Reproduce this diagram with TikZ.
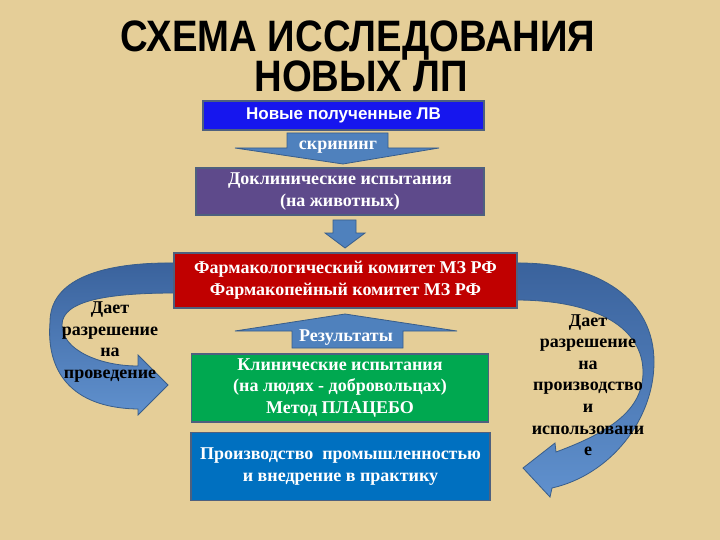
\documentclass[tikz,border=0pt]{standalone}
\usepackage{graphicx}
\usepackage{fontspec}
\setmainfont{Liberation Serif}
\setsansfont{Liberation Sans}
\definecolor{bg}{RGB}{229,206,152}
\definecolor{boxborder}{RGB}{78,96,126}
\definecolor{arrowfill}{RGB}{79,129,189}
\definecolor{arrowborder}{RGB}{56,93,138}
\definecolor{adark}{RGB}{58,98,156}
\definecolor{alight}{RGB}{96,145,206}
\definecolor{cblue}{RGB}{22,22,238}
\definecolor{cpurple}{RGB}{94,74,139}
\definecolor{cred}{RGB}{192,0,0}
\definecolor{cgreen}{RGB}{0,168,80}
\definecolor{cblue2}{RGB}{0,112,192}
\tikzset{
  box/.style={draw=boxborder, line width=1.5pt, text=white, align=center, inner sep=0pt,
    font=\bfseries\fontsize{18}{21.6}\selectfont},
  blockarrow/.style={fill=arrowfill, draw=arrowborder, line width=0.8pt},
  curvearrow/.style={draw=arrowborder, line width=0.8pt, top color=adark, bottom color=alight},
  lbl/.style={text=white, inner sep=0pt, font=\bfseries\fontsize{18}{21.6}\selectfont},
  sidetext/.style={align=center, inner sep=0pt, text=black, font=\bfseries\fontsize{18}{21.6}\selectfont},
  titletext/.style={inner sep=0pt, anchor=base, font=\sffamily\bfseries\fontsize{44}{48}\selectfont}
}
\begin{document}
\begin{tikzpicture}[x=1pt,y=-1pt]
\fill[bg] (0,0) rectangle (720,540);
\useasboundingbox (0,0) rectangle (720,540);

% title
\node[titletext] (t1) at (358,52) {\scalebox{0.87}[1]{СХЕМА ИССЛЕДОВАНИЯ}};
\node[titletext] (t2) at (361,92) {\scalebox{0.87}[1]{НОВЫХ ЛП}};

% curved arrows (behind boxes)
\path[curvearrow] (176,263) .. controls (100,262) and (50,280) .. (50,322)
   .. controls (46,370) and (70,408) .. (138,409) -- (138,415) -- (168,385) -- (138,355) -- (138,366)
   .. controls (100,366) and (62,350) .. (62,325)
   .. controls (62,300) and (110,293) .. (176,293) -- cycle;
\path[curvearrow] (515,263) .. controls (600,262) and (654,300) .. (654,362)
   .. controls (654,420) and (610,475) .. (552,488) -- (550,497) -- (523,468) -- (555,443) -- (556,452)
   .. controls (610,432) and (643,410) .. (643,372)
   .. controls (643,330) and (600,300) .. (515,300) -- cycle;

% block arrows
\path[blockarrow] (287,133) -- (388,133) -- (388,148) -- (439,148) -- (343,164) -- (235,148) -- (287,148) -- cycle;
\path[blockarrow] (333,220) -- (356,220) -- (356,233) -- (365,233) -- (345,248) -- (325,233) -- (333,233) -- cycle;
\path[blockarrow] (292,348) -- (292,331) -- (235,331) -- (345,314) -- (457,331) -- (403,331) -- (403,348) -- cycle;

% boxes
\node[box, fill=cblue, minimum width=281pt, minimum height=29pt,
      font=\sffamily\bfseries\fontsize{17}{20}\selectfont] (n1) at (343.5,115.5) {Новые полученные ЛВ};
\node[box, fill=cpurple, minimum width=288pt, minimum height=47pt] (n2) at (340,191.5)
  {Доклинические испытания\\(на животных)};
\node[box, fill=cred, minimum width=343pt, minimum height=55pt] (n3) at (345.5,280.5)
  {Фармакологический комитет МЗ РФ\\Фармакопейный комитет МЗ РФ};
\node[box, fill=cgreen, minimum width=297pt, minimum height=68pt] (n4) at (340,388)
  {Клинические испытания\\(на людях - добровольцах)\\Метод ПЛАЦЕБО};
\node[box, fill=cblue2, minimum width=299pt, minimum height=68pt] (n5) at (340.5,466.5)
  {Производство\ \ промышленностью\\и внедрение в практику};

% arrow labels
\node[lbl] (scr) at (338,147) {скрининг};
\node[lbl] (res) at (346,338) {Результаты};

% side texts
\node[sidetext] (lt) at (110,342) {Дает\\разрешение\\на\\проведение};
\node[sidetext] (rt) at (588,385) {Дает\\разрешение\\на\\производство\\и\\использовани\\е};
\end{tikzpicture}
\end{document}
